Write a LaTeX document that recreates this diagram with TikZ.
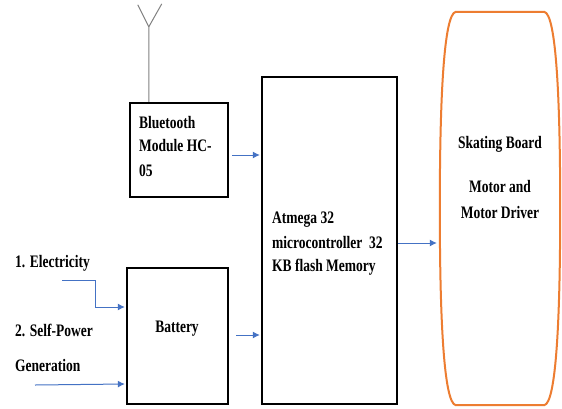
\documentclass[tikz,border=0pt]{standalone}
\usepackage{graphicx}
\usepackage{fontspec}
\setmainfont{Liberation Serif}
\usetikzlibrary{arrows.meta,calc}
\definecolor{arrblue}{RGB}{68,114,196}
\definecolor{boardorange}{RGB}{237,125,49}
\definecolor{antgray}{RGB}{130,130,130}
\newcommand{\tx}[1]{\scalebox{1}[1.3]{\fontsize{13.5}{15}\selectfont\bfseries #1}}
\tikzset{
  blockbox/.style={draw=black, line width=2.4pt, minimum width=#1, inner sep=0pt},
  arr/.style={draw=arrblue, line width=1pt, -{Latex[length=7pt,width=7pt]}},
  lbl/.style={inner sep=0pt, anchor=base west},
  clbl/.style={inner sep=0pt, anchor=base},
}
\begin{document}
\begin{tikzpicture}[x=1pt,y=-1pt]
\useasboundingbox (0,0) rectangle (562,408);
\fill[white] (0,0) rectangle (562,408);
% blocks
\node[blockbox=98pt, minimum height=94pt] (bt) at (179,150) {};
\node[blockbox=135pt, minimum height=327pt] (mc) at (329.5,240.5) {};
\node[blockbox=101pt, minimum height=136pt] (bat) at (177.5,336) {};
\node[minimum width=120pt, minimum height=393pt, inner sep=0pt] (board) at (500,208.5) {};
% board outline
\draw[boardorange, line width=2pt]
  ($(board.north west)+(16,0)$) -- ($(board.north east)+(-16,0)$)
  .. controls ($(board.north east)+(-4,2)$) and ($(board.east)+(0,-110)$) .. (board.east)
  .. controls ($(board.east)+(0,110)$) and ($(board.south east)+(-4,-2)$) .. ($(board.south east)+(-16,0)$)
  -- ($(board.south west)+(16,0)$)
  .. controls ($(board.south west)+(4,-2)$) and ($(board.west)+(0,110)$) .. (board.west)
  .. controls ($(board.west)+(0,-110)$) and ($(board.north west)+(4,2)$) .. cycle;
% antenna
\coordinate (antbase) at ($(bt.north west)+(20,0)$);
\coordinate (antjoint) at ($(antbase)+(0,-75)$);
\coordinate (antl) at ($(antjoint)+(-11,-22)$);
\coordinate (antr) at ($(antjoint)+(13,-23)$);
\draw[antgray, line width=1pt] (antbase) -- (antjoint) -- (antl);
\draw[antgray, line width=1pt] (antjoint) -- (antr);
% texts
\node[lbl] (bt1) at (139,128) {\tx{Bluetooth}};
\node[lbl] (bt2) at (139,151) {\tx{Module HC-}};
\node[lbl] (bt3) at (139,176) {\tx{05}};
\node[lbl] (mc1) at (272,223) {\tx{Atmega 32}};
\node[lbl] (mc2) at (272,248) {\tx{microcontroller\ \ 32}};
\node[lbl] (mc3) at (272,271) {\tx{KB flash Memory}};
\node[clbl] (bat1) at (177,332) {\tx{Battery}};
\node[clbl] (bd1) at (500,148) {\tx{Skating Board}};
\node[clbl] (bd2) at (500,192) {\tx{Motor and}};
\node[clbl] (bd3) at (500,218) {\tx{Motor Driver}};
\node[lbl] (el) at (15,267) {\tx{1. Electricity}};
\node[lbl] (sp1) at (15,336) {\tx{2. Self-Power}};
\node[lbl] (sp2) at (15,371) {\tx{Generation}};
% connectors
\coordinate (btout) at ([shift={(3,5)}]bt.east);
\draw[arr] (btout) -- ([xshift=-1pt]mc.west |- btout);
\coordinate (batout) at ([shift={(7,-1)}]bat.east);
\draw[arr] (batout) -- ([xshift=-1pt]mc.west |- batout);
\coordinate (mcout) at ([shift={(0,2.5)}]mc.east);
\draw[arr] (mcout) -- ([xshift=-3pt]board.west |- mcout);
\coordinate (elstart) at (62,280);
\coordinate (elbend) at (95,280);
\draw[arr] (elstart) -- (elbend) |- ([shift={(-1,-29)}]bat.west);
\coordinate (spstart) at (35,385);
\draw[arr] (spstart) -- ([shift={(-1,48)}]bat.west);
\end{tikzpicture}
\end{document}
